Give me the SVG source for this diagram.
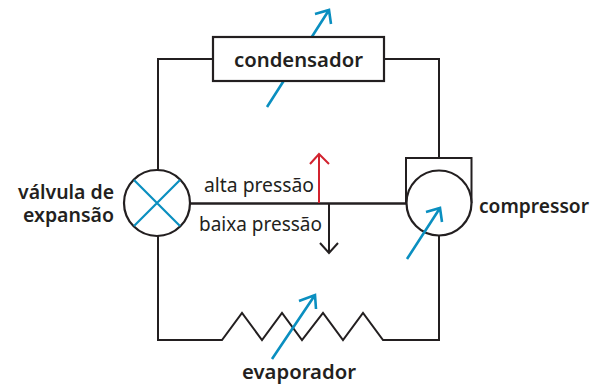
<svg xmlns="http://www.w3.org/2000/svg" width="595" height="384" viewBox="0 0 595 384">
<style>
.l{fill:none;stroke:#231f20;stroke-width:2;stroke-linejoin:miter}
.m{fill:none;stroke:#231f20;stroke-width:2.500}
.s{fill:#fff;stroke:#231f20;stroke-width:2.200}
.b{fill:none;stroke:#0a8fc0;stroke-width:2.600}
.x{fill:none;stroke:#0a8fc0;stroke-width:2.200}
.r{fill:none;stroke:#d2232f;stroke-width:2}
.k{fill:none;stroke:#231f20;stroke-width:2}
text{font-family:"Noto Sans","Open Sans",sans-serif;fill:#231f20}
.t{font-size:20px;font-weight:600}
.n{font-size:19px;font-weight:400}
</style>
<rect width="595" height="384" fill="#fff"/>
<g id="connectors">
<path class="l" d="M213 59H158V170"/>
<path class="l" d="M384 59H439V158"/>
<path class="m" d="M190 203.500H406"/>
<path class="l" d="M158 236V340H222L242 313L262 340L282 313L302 340L323 313L343 340L363 313L383 340H439V235"/>
</g>
<g id="condensador">
<path class="b" d="M267 107L329 10M315 14L329 10L331 24"/>
<rect class="s" x="213" y="37" width="171" height="44"/>
<text class="t" x="234" y="67" textLength="129" lengthAdjust="spacingAndGlyphs">condensador</text>
</g>
<g id="valvula">
<circle class="s" cx="157" cy="203" r="33"/>
<path class="x" d="M134 180L180 226M180 180L134 226"/>
<text class="t" x="18" y="199" textLength="96" lengthAdjust="spacingAndGlyphs">válvula de</text>
<text class="t" x="23" y="222" textLength="91" lengthAdjust="spacingAndGlyphs">expansão</text>
</g>
<g id="compressor">
<path class="l" d="M406 203V158H471.500V203"/>
<circle class="s" cx="439" cy="203" r="32.500"/>
<path class="b" d="M407 259L440 208M426 212L440 208L442 222"/>
<text class="t" x="479" y="213" textLength="110" lengthAdjust="spacingAndGlyphs">compressor</text>
</g>
<g id="pressao">
<path class="r" d="M319 203V154M310 164L319 154L329 164"/>
<path class="k" d="M329 203V253M320 243L329 253L338 243"/>
<text class="n" x="204" y="192" textLength="110" lengthAdjust="spacingAndGlyphs">alta pressão</text>
<text class="n" x="199" y="231" textLength="123" lengthAdjust="spacingAndGlyphs">baixa pressão</text>
</g>
<g id="evaporador">
<path class="b" d="M272 359L315 295M299 301L315 295L316 309"/>
<text class="t" x="242" y="379" textLength="114" lengthAdjust="spacingAndGlyphs">evaporador</text>
</g>
</svg>
